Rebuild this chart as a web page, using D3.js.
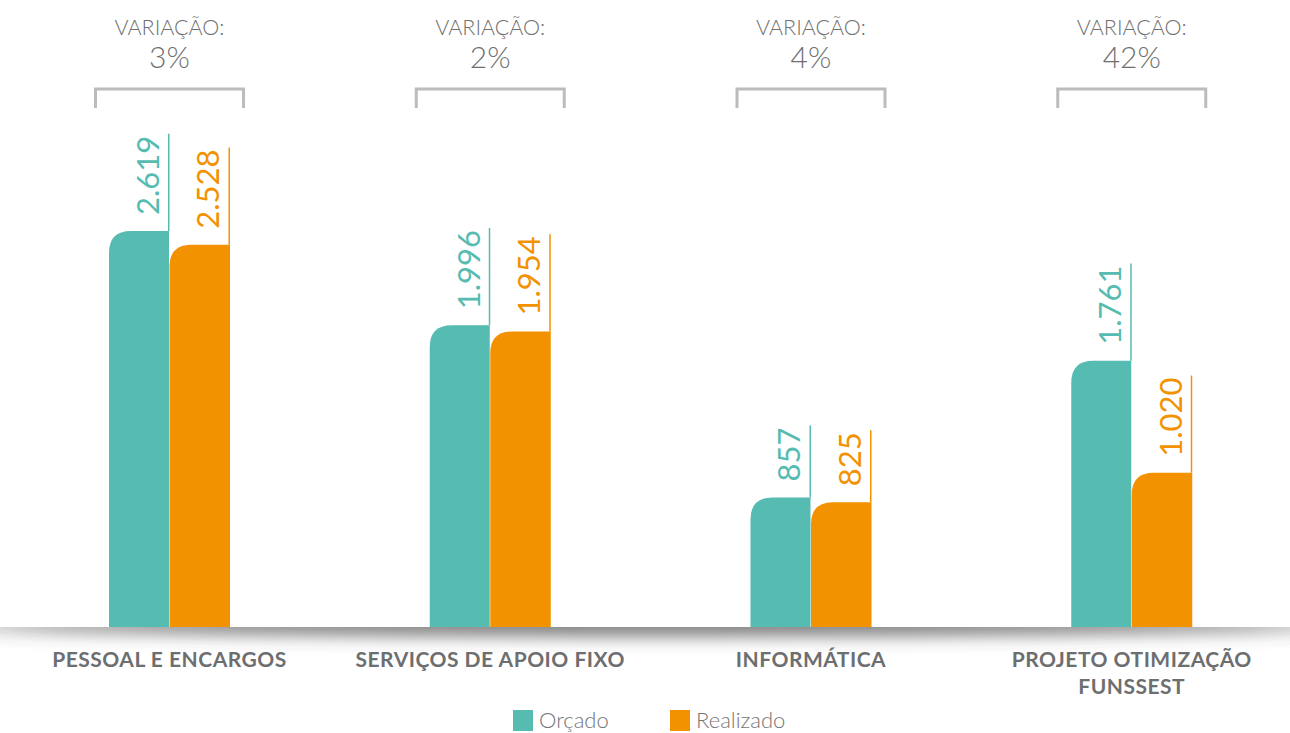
<!DOCTYPE html>
<html>
<head>
<meta charset="utf-8">
<script src="https://cdn.jsdelivr.net/npm/d3@7"></script>
<style>
  body { margin: 0; background: #fff; }
  svg { display: block; font-family: Lato, 'Open Sans', sans-serif; }
</style>
</head>
<body>
<svg id="chart" width="1290" height="733"></svg>
<script>
var categories = [['PESSOAL E ENCARGOS'], ['SERVIÇOS DE APOIO FIXO'], ['INFORMÁTICA'], ['PROJETO OTIMIZAÇÃO', 'FUNSSEST']];
var orcado = [2619, 1996, 857, 1761];
var realizado = [2528, 1954, 825, 1020];
var variacao = ['3%', '2%', '4%', '42%'];
var seriesNames = ['Orçado', 'Realizado'];
var colors = ['#56bbb1', '#f39200'];

var svg = d3.select('#chart');
var baseY = 627;

var x0 = d3.scaleBand().domain(d3.range(categories.length)).range([9, 1292]).paddingInner(0.0).paddingOuter(0);
var x1 = d3.scaleBand().domain([0, 1]).range([100, 221]).padding(0);
var y = d3.scaleLinear().domain([0, 2619]).range([baseY, 231]);

var fmt = function(v) { return d3.format(',')(v).replace(/,/g, '.'); };

// shadow under the baseline
var defs = svg.append('defs');
defs.append('filter').attr('id', 'blur').attr('x', '-10%').attr('y', '-300%').attr('width', '120%').attr('height', '700%')
    .append('feGaussianBlur').attr('stdDeviation', 9);
defs.append('clipPath').attr('id', 'below')
    .append('rect').attr('x', 0).attr('y', baseY).attr('width', 1290).attr('height', 60);
svg.append('g').attr('clip-path', 'url(#below)')
    .append('ellipse').attr('cx', 650).attr('cy', baseY - 2).attr('rx', 680).attr('ry', 10)
    .attr('fill', '#444').attr('fill-opacity', 0.8).attr('filter', 'url(#blur)');

function barPath(x, w, top, r) {
    r = Math.min(r, baseY - top);
    return 'M' + x + ',' + baseY + 'V' + (top + r) + 'Q' + x + ',' + top + ' ' + (x + r) + ',' + top +
        'H' + (x + w) + 'V' + baseY + 'Z';
}

var groups = svg.selectAll('.grp').data(categories).enter().append('g').attr('class', 'grp')
    .attr('transform', function(d, i) { return 'translate(' + x0(i) + ',0)'; });

groups.each(function(cat, i) {
    var g = d3.select(this);
    var vals = [orcado[i], realizado[i]];
    var cx = x1.range()[0] + (x1.range()[1] - x1.range()[0]) / 2;
    vals.forEach(function(v, s) {
        var bx = x1(s), bw = x1.bandwidth() - (s === 0 ? 0.5 : 0);
        var top = y(v);
        g.append('path').attr('d', barPath(bx, bw, top, 22)).attr('fill', colors[s]);
        var lx = bx + x1.bandwidth() - 0.75;
        var label = g.append('text')
            .attr('transform', 'translate(' + (lx - 10) + ',' + (top - 16) + ') rotate(-90)')
            .attr('fill', colors[s]).attr('font-size', 31).attr('font-weight', 400)
            .text(fmt(v));
        var len = label.node().getComputedTextLength();
        g.append('line').attr('x1', lx).attr('x2', lx).attr('y1', top).attr('y2', top - 16 - len - 2)
            .attr('stroke', colors[s]).attr('stroke-width', 1.5);
    });

    // bracket
    g.append('path')
        .attr('d', 'M' + (cx - 74) + ',108V89H' + (cx + 74) + 'V108')
        .attr('fill', 'none').attr('stroke', '#bcbcbc').attr('stroke-width', 3);
    g.append('text').attr('x', cx).attr('y', 35).attr('text-anchor', 'middle')
        .attr('font-size', 21.5).attr('font-weight', 300).attr('fill', '#707070').text('VARIAÇÃO:');
    g.append('text').attr('x', cx).attr('y', 68).attr('text-anchor', 'middle')
        .attr('font-size', 30).attr('font-weight', 300).attr('fill', '#707070').text(variacao[i]);

    // category label
    cat.forEach(function(line, k) {
        g.append('text').attr('x', cx).attr('y', 667 + k * 27).attr('text-anchor', 'middle')
            .attr('font-size', 21).attr('font-weight', 700).attr('letter-spacing', 0.5)
            .attr('fill', '#6d6e70').text(line);
    });
});

// legend
var legendX = [513, 670];
var legend = svg.selectAll('.leg').data(seriesNames).enter().append('g').attr('class', 'leg')
    .attr('transform', function(d, i) { return 'translate(' + legendX[i] + ',710)'; });
legend.append('rect').attr('width', 20).attr('height', 21).attr('fill', function(d, i) { return colors[i]; });
legend.append('text').attr('x', 26).attr('y', 18).attr('font-size', 22).attr('font-weight', 300)
    .attr('fill', '#757575').text(function(d) { return d; });
</script>
</body>
</html>
